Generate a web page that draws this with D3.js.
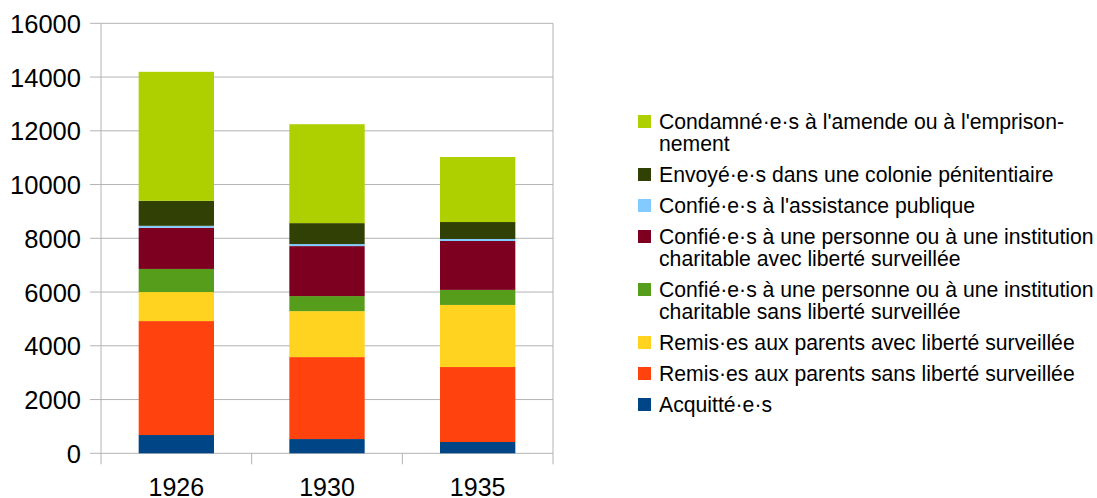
<!DOCTYPE html>
<html><head><meta charset="utf-8">
<script src="https://cdn.jsdelivr.net/npm/d3@7"></script>
<style>body{margin:0;background:#fff}svg{display:block;font-family:"Liberation Sans",Arial,sans-serif}</style>
</head><body><svg id="c" width="1097" height="498"></svg>
<script>
const years = ["1926", "1930", "1935"];
const seriesNames = [
  "Acquitté·e·s",
  "Remis·es aux parents sans liberté surveillée",
  "Remis·es aux parents avec liberté surveillée",
  "Confié·e·s à une personne ou à une institution charitable sans liberté surveillée",
  "Confié·e·s à une personne ou à une institution charitable avec liberté surveillée",
  "Confié·e·s à l'assistance publique",
  "Envoyé·e·s dans une colonie pénitentiaire",
  "Condamné·e·s à l'amende ou à l'emprisonnement"
];
const legendLines = [
  ["Acquitté·e·s"],
  ["Remis·es aux parents sans liberté surveillée"],
  ["Remis·es aux parents avec liberté surveillée"],
  ["Confié·e·s à une personne ou à une institution", "charitable sans liberté surveillée"],
  ["Confié·e·s à une personne ou à une institution", "charitable avec liberté surveillée"],
  ["Confié·e·s à l'assistance publique"],
  ["Envoyé·e·s dans une colonie pénitentiaire"],
  ["Condamné·e·s à l'amende ou à l'emprison-", "nement"]
];
const colors = ["#004586", "#ff420e", "#ffd320", "#579d1c", "#7e0021", "#83caff", "#314004", "#aecf00"];
const acquittes       = [680, 530, 420];
const remisSans       = [4240, 3050, 2790];
const remisAvec       = [1080, 1710, 2310];
const confieSans      = [860, 560, 560];
const confieAvec      = [1530, 1860, 1820];
const assistance      = [75, 75, 75];
const colonie         = [930, 780, 630];
const condamnes       = [4800, 3680, 2420];
const yTicks = [0, 2000, 4000, 6000, 8000, 10000, 12000, 14000, 16000];

const values = [acquittes, remisSans, remisAvec, confieSans, confieAvec, assistance, colonie, condamnes];
const table = years.map((y, i) => {
  const o = {year: y};
  seriesNames.forEach((s, k) => o[s] = values[k][i]);
  return o;
});

const svg = d3.select("#c");
const L = 101, R = 553, T = 23.3, B = 453.3;
const x = d3.scaleBand().domain(years).range([L, R]).paddingInner(0.5).paddingOuter(0.25);
const y = d3.scaleLinear().domain([0, 16000]).range([B, T]);
const grid = "#b3b3b3";

// horizontal gridlines
svg.append("g").selectAll("line").data(yTicks).join("line")
  .attr("x1", L - 11).attr("x2", R).attr("y1", d => y(d)).attr("y2", d => y(d))
  .attr("stroke", grid).attr("stroke-width", 1);
// right border
svg.append("line").attr("x1", R).attr("x2", R).attr("y1", T).attr("y2", B + 11).attr("stroke", grid);
// y axis
svg.append("line").attr("x1", L).attr("x2", L).attr("y1", T).attr("y2", B + 11).attr("stroke", grid);
// x ticks at category boundaries
const bounds = [x.step(), 2 * x.step()].map(s => L + s);
svg.append("g").selectAll("line").data(bounds).join("line")
  .attr("x1", d => d).attr("x2", d => d).attr("y1", B).attr("y2", B + 11).attr("stroke", grid);

const stack = d3.stack().keys(seriesNames)(table);
svg.append("g").selectAll("g").data(stack).join("g")
  .attr("fill", (d, i) => colors[i])
  .selectAll("rect").data(d => d).join("rect")
  .attr("x", d => x(d.data.year)).attr("width", x.bandwidth())
  .attr("y", d => y(d[1])).attr("height", d => y(d[0]) - y(d[1]));

// y labels
svg.append("g").selectAll("text").data(yTicks).join("text")
  .attr("x", 81).attr("y", d => y(d) + 9.5).attr("text-anchor", "end")
  .attr("font-size", 25.5).attr("fill", "#000").text(d => d);
// x labels
svg.append("g").selectAll("text").data(years).join("text")
  .attr("x", d => x(d) + x.bandwidth() / 2).attr("y", 496).attr("text-anchor", "middle")
  .attr("font-size", 25).attr("fill", "#000").text(d => d);

// legend (top to bottom reverse order)
let base = 129;
const lg = svg.append("g");
for (let k = seriesNames.length - 1; k >= 0; k--) {
  lg.append("rect").attr("x", 638).attr("y", base - 14).attr("width", 13).attr("height", 13).attr("fill", colors[k]);
  legendLines[k].forEach((t, j) => {
    lg.append("text").attr("x", 659).attr("y", base + j * 22).attr("font-size", 21.2).attr("fill", "#000").text(t);
  });
  base += 31 + 22 * (legendLines[k].length - 1);
}
</script></body></html>
